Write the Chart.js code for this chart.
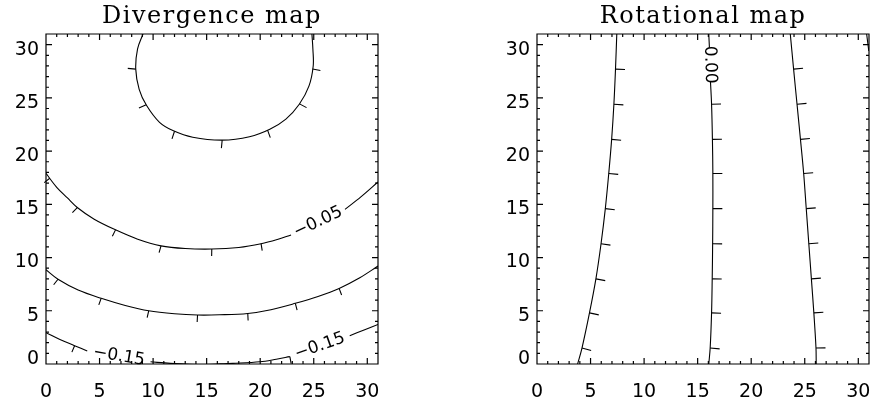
<!DOCTYPE html>
<html>
<head>
<meta charset="utf-8">
<script src="https://cdn.jsdelivr.net/npm/chart.js@4.4.0/dist/chart.umd.min.js"></script>
<style>
html,body{margin:0;padding:0;background:#fff}
#wrap{position:relative;width:872px;height:402px;background:#fff}
canvas{position:absolute;top:0}
</style>
</head>
<body>
<div id="wrap">
<canvas id="divCanvas" width="436" height="402" style="left:0"></canvas>
<canvas id="rotCanvas" width="436" height="402" style="left:436px"></canvas>
</div>
<script>
// ---------------- axes ----------------
const axisMin = 0;
const axisMax = 31;
const tickLabels = [0, 5, 10, 15, 20, 25, 30];
const titles = ['Divergence map', 'Rotational map'];

// ---------------- Divergence map: contour lines (data coordinates) ----------------
const divTop = [[9.06,31],[8.55,29.6],[8.38,27.7],[8.7,25.8],[9.38,24.3],[10.6,22.7],[11.9,21.9],[13.7,21.3],[16.45,21.03],[19.0,21.35],[20.9,22.05],[22.4,23.0],[23.65,24.4],[24.55,26.1],[24.95,28.0],[24.92,29.6],[24.83,31]];
const divM005Left = [[0,17.9],[1,16.6],[2,15.6],[2.92,14.7],[4.5,13.6],[6.49,12.6],[8.5,11.75],[10.74,11.1],[13,10.85],[15.48,10.8],[18,10.95],[20.08,11.3],[21.6,11.7],[22.88,12.12]];
const divM005Right = [[27.92,14.53],[29.4,15.7],[31,17.1]];
const divM010 = [[0,8.85],[1.12,7.96],[3,6.95],[5.15,6.17],[7.4,5.5],[9.59,5.0],[12,4.72],[14.15,4.6],[16.2,4.62],[18.84,4.75],[21,5.1],[23.28,5.7],[25.4,6.35],[27.37,7.1],[29.3,8.1],[31,9.2]];
const divM015Left = [[0,2.94],[1.3,2.3],[2.67,1.72],[3.85,1.22]];
const divM015Mid = [[9.76,0.21],[11.6,0.06],[13,0.0],[14.5,-0.05],[16,0.0],[17.45,0.06],[19.97,0.21],[21.5,0.45],[22.77,0.69]];
const divM015Right = [[28.36,2.66],[29.7,3.2],[31,3.72]];

// downhill tick marks
const divTopTicks = [[8.38,27.7],[9.38,24.36],[12.0,21.87],[16.45,21.03],[20.64,22.1],[23.59,24.48],[24.98,27.7]];
const divTopCentre = [16.6, 28.3];
const divM005TicksX = [0.35, 2.92, 6.49, 10.74, 15.48, 20.08];
const divM010TicksX = [1.12, 5.15, 9.59, 14.15, 18.84, 23.28, 27.37];
const divM015TicksX = [2.67, 22.8];

// contour labels
const divLabelTexts = ['\u22120.05', '\u22120.15', '\u22120.15'];

// ---------------- Rotational map: contour lines ----------------
const rotA = [[3.79,0],[4.2,1.5],[4.9,4.8],[5.5,8.0],[5.98,11.3],[6.38,14.6],[6.7,17.9],[6.97,21.1],[7.18,24.4],[7.33,27.7],[7.45,31]];
const rotBLow = [[16.04,0],[16.17,1.5],[16.3,4.8],[16.36,8.0],[16.4,11.3],[16.42,14.6],[16.42,17.9],[16.38,21.1],[16.3,24.4],[16.2,26.5]];
const rotBHigh = [[16.1,29.7],[16.04,31]];
const rotC = [[26.07,0],[26.05,1.5],[25.85,4.8],[25.62,8.0],[25.38,11.3],[25.14,14.6],[24.9,17.9],[24.6,21.1],[24.28,24.4],[23.96,27.7],[23.65,31]];
const rotD = [[30.78,31],[30.98,29.4]];

const rotTicksY = [1.5, 4.8, 8.0, 11.3, 14.6, 17.9, 21.1, 24.4, 27.7];
const rotMidTicksY = [1.5, 4.8, 8.0, 11.3, 14.6, 17.9, 21.1, 24.4];
const rotLabelTexts = ['0.00'];

// ---------------- helpers ----------------
function atX(segs, x) {
  for (const s of segs) for (let i = 0; i < s.length - 1; i++) {
    const a = s[i], b = s[i + 1];
    if ((x - a[0]) * (x - b[0]) <= 0 && a[0] !== b[0]) {
      const t = (x - a[0]) / (b[0] - a[0]);
      return [x, a[1] + t * (b[1] - a[1])];
    }
  }
  return [x, segs[0][0][1]];
}
function atY(segs, y) {
  for (const s of segs) for (let i = 0; i < s.length - 1; i++) {
    const a = s[i], b = s[i + 1];
    if ((y - a[1]) * (y - b[1]) <= 0 && a[1] !== b[1]) {
      const t = (y - a[1]) / (b[1] - a[1]);
      return [a[0] + t * (b[0] - a[0]), y];
    }
  }
  return [segs[0][0][0], y];
}
const last = a => a[a.length - 1];

function lineDataset(pts) {
  return {
    data: pts.map(([x, y]) => ({x, y})),
    showLine: true,
    borderColor: '#000',
    borderWidth: 1.1,
    pointRadius: 0,
    pointHoverRadius: 0,
    tension: 0.35,
    fill: false
  };
}

// draws frame (with minor/major ticks on 4 sides), downhill tick marks and contour labels
const contourDecor = {
  id: 'contourDecor',
  afterDatasetsDraw(chart, args, opts) {
    const {ctx, chartArea: a} = chart;
    const xs = chart.scales.x, ys = chart.scales.y;
    const px = p => [xs.getPixelForValue(p[0]), ys.getPixelForValue(p[1])];
    ctx.save();
    ctx.strokeStyle = '#000';
    ctx.lineWidth = 1.1;
    ctx.lineCap = 'butt';

    // downhill tick marks
    ctx.beginPath();
    for (const m of opts.marks) {
      const segs = m.segments.map(s => s.map(px));
      for (const an of m.anchors) {
        const A = px(an);
        let best = null;
        for (const S of segs) for (let i = 0; i < S.length - 1; i++) {
          const P = S[i], Q = S[i + 1];
          const dx = Q[0] - P[0], dy = Q[1] - P[1], L2 = dx * dx + dy * dy;
          let t = L2 ? ((A[0] - P[0]) * dx + (A[1] - P[1]) * dy) / L2 : 0;
          t = Math.max(0, Math.min(1, t));
          const X = [P[0] + t * dx, P[1] + t * dy];
          const d = Math.hypot(A[0] - X[0], A[1] - X[1]);
          if (!best || d < best.d) best = {d, X, dx, dy};
        }
        const L = Math.hypot(best.dx, best.dy) || 1;
        let nx = -best.dy / L, ny = best.dx / L;
        let hx, hy;
        if (m.away) { const C = px(m.away); hx = best.X[0] - C[0]; hy = best.X[1] - C[1]; }
        else { hx = m.dir[0]; hy = m.dir[1]; }
        if (nx * hx + ny * hy < 0) { nx = -nx; ny = -ny; }
        ctx.moveTo(best.X[0], best.X[1]);
        ctx.lineTo(best.X[0] + nx * m.len, best.X[1] + ny * m.len);
      }
    }
    ctx.stroke();

    // contour labels
    ctx.fillStyle = '#000';
    ctx.font = '17px "DejaVu Sans", sans-serif';
    ctx.textAlign = 'center';
    ctx.textBaseline = 'middle';
    for (const lb of opts.labels) {
      const P = px(lb.from), Q = px(lb.to);
      ctx.save();
      ctx.translate((P[0] + Q[0]) / 2, (P[1] + Q[1]) / 2);
      ctx.rotate(Math.atan2(Q[1] - P[1], Q[0] - P[0]));
      ctx.fillText(lb.text, 0, 0);
      ctx.restore();
    }

    // frame and ticks
    const Lf = a.left, R = a.right, T = a.top, B = a.bottom;
    ctx.lineWidth = 1.2;
    ctx.beginPath();
    ctx.rect(Lf, T, R - Lf, B - T);
    for (let v = xs.min + 1; v < xs.max; v++) {
      const len = tickLabels.includes(v) ? 6 : 3;
      const x = xs.getPixelForValue(v);
      ctx.moveTo(x, B); ctx.lineTo(x, B - len);
      ctx.moveTo(x, T); ctx.lineTo(x, T + len);
    }
    for (let v = ys.min + 1; v < ys.max; v++) {
      const len = tickLabels.includes(v) ? 6 : 3;
      const y = ys.getPixelForValue(v);
      ctx.moveTo(Lf, y); ctx.lineTo(Lf + len, y);
      ctx.moveTo(R, y); ctx.lineTo(R - len, y);
    }
    ctx.stroke();
    ctx.restore();
  }
};

// slightly wider letter spacing for the title (IDL Hershey font look)
const titleSpacing = {
  id: 'titleSpacing',
  beforeDraw(chart) {
    const tb = chart.titleBlock;
    if (tb && !tb._spaced) {
      const orig = tb.draw.bind(tb);
      tb.draw = function (...args) {
        const c = this.ctx;
        const prev = c.letterSpacing;
        try { c.letterSpacing = '1.5px'; } catch (e) {}
        orig(...args);
        try { c.letterSpacing = prev; } catch (e) {}
      };
      tb._spaced = true;
    }
  }
};

function makeOptions(title, yWidth, rightPad, decor) {
  const tickFamily = '"DejaVu Sans", sans-serif';
  return {
    responsive: false,
    animation: false,
    devicePixelRatio: 1,
    layout: {padding: {left: 0, right: rightPad, top: 0, bottom: 0}, autoPadding: false},
    plugins: {
      legend: {display: false},
      tooltip: {enabled: false},
      title: {
        display: true,
        text: title,
        fullSize: false,
        color: '#000',
        font: {family: '"DejaVu Serif", serif', size: 24, weight: 'normal', lineHeight: 1.2},
        padding: {top: 2.3, bottom: 2.9}
      },
      contourDecor: decor
    },
    scales: {
      x: {
        type: 'linear',
        position: 'bottom',
        min: axisMin,
        max: axisMax,
        grid: {display: false, drawTicks: false},
        border: {display: false},
        ticks: {
          stepSize: 5,
          includeBounds: false,
          autoSkip: false,
          maxRotation: 0,
          color: '#000',
          font: {family: tickFamily, size: 19},
          padding: 17,
          callback: v => tickLabels.includes(v) ? String(v) : ''
        },
        afterFit(s) { s.height = 38; s.paddingLeft = 0; s.paddingRight = 0; }
      },
      y: {
        type: 'linear',
        position: 'left',
        min: axisMin,
        max: axisMax,
        grid: {display: false, drawTicks: false},
        border: {display: false},
        ticks: {
          stepSize: 5,
          includeBounds: false,
          autoSkip: false,
          color: '#000',
          font: {family: tickFamily, size: 19, lineHeight: 1.0},
          padding: 7,
          labelOffset: 5,
          callback: v => !tickLabels.includes(v) ? '' : (v === 0 ? ['0', ''] : String(v))
        },
        afterFit(s) { s.width = yWidth; s.paddingTop = 0; s.paddingBottom = 0; }
      }
    }
  };
}

// ---------------- Divergence chart ----------------
const divDecor = {
  marks: [
    {segments: [divTop], anchors: divTopTicks, away: divTopCentre, len: 8},
    {segments: [divM005Left, divM005Right], anchors: divM005TicksX.map(x => atX([divM005Left, divM005Right], x)), dir: [0, 1], len: 7},
    {segments: [divM010], anchors: divM010TicksX.map(x => atX([divM010], x)), dir: [0, 1], len: 7},
    {segments: [divM015Left, divM015Mid, divM015Right], anchors: divM015TicksX.map(x => atX([divM015Left, divM015Mid, divM015Right], x)), dir: [0, 1], len: 7}
  ],
  labels: [
    {text: divLabelTexts[0], from: last(divM005Left), to: divM005Right[0]},
    {text: divLabelTexts[1], from: last(divM015Left), to: divM015Mid[0]},
    {text: divLabelTexts[2], from: last(divM015Mid), to: divM015Right[0]}
  ]
};

new Chart(document.getElementById('divCanvas'), {
  type: 'scatter',
  data: {datasets: [divTop, divM005Left, divM005Right, divM010, divM015Left, divM015Mid, divM015Right].map(lineDataset)},
  options: makeOptions(titles[0], 46, 58, divDecor),
  plugins: [contourDecor, titleSpacing]
});

// ---------------- Rotational chart ----------------
const rotDecor = {
  marks: [
    {segments: [rotA], anchors: rotTicksY.map(y => atY([rotA], y)), dir: [1, 0], len: 9.5},
    {segments: [rotBLow, rotBHigh], anchors: rotMidTicksY.map(y => atY([rotBLow, rotBHigh], y)), dir: [1, 0], len: 9.5},
    {segments: [rotC], anchors: rotTicksY.map(y => atY([rotC], y)), dir: [1, 0], len: 9.5}
  ],
  labels: [
    {text: rotLabelTexts[0], from: rotBHigh[0], to: last(rotBLow)}
  ]
};

new Chart(document.getElementById('rotCanvas'), {
  type: 'scatter',
  data: {datasets: [rotA, rotBLow, rotBHigh, rotC, rotD].map(lineDataset)},
  options: makeOptions(titles[1], 101, 3, rotDecor),
  plugins: [contourDecor, titleSpacing]
});
</script>
</body>
</html>
